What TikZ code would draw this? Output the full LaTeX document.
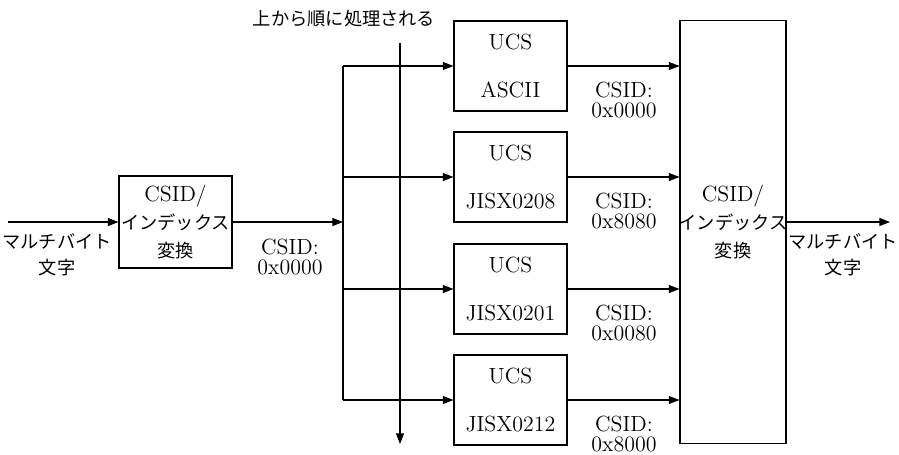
\documentclass[tikz,border=0pt]{standalone}
\usepackage{fontspec}
\newfontfamily\jp{Noto Sans CJK JP}[Scale=0.83]
\usetikzlibrary{positioning,arrows.meta}

\tikzset{
  blk/.style={draw, minimum width=2.26cm, minimum height=1.8cm, inner sep=0pt, align=center},
  lbl/.style={align=center, inner sep=0pt, font=\fontsize{12.5}{11.5}\selectfont},
  jplbl/.style={align=center, inner sep=0pt, font=\fontsize{12.5}{14.8}\selectfont\jp},
  convtxt/.style={align=center, inner sep=0pt, font=\fontsize{12.5}{16}\selectfont},
}

\begin{document}
\begin{tikzpicture}[x=0.02cm, y=-0.02cm, line width=0.6pt,
    font=\fontsize{12.5}{11.5}\selectfont,
    >={Triangle[length=6pt,width=4.5pt]}]
  \useasboundingbox (0,0) rectangle (899,454);

  % input side
  \coordinate (in) at (8,222);
  \node[blk, convtxt, minimum height=1.84cm] (conv) at (175.5,222)
    {CSID/\\{\jp インデックス}\\{\jp 変換}};
  \node[jplbl] (inlbl) at (57,255) {マルチバイト\\文字};
  \node[lbl] (csid) at (290,257) {CSID:\\0x0000};
  \draw[->] (in) -- (conv);

  % distribution bus
  \coordinate (bus) at (343,222);
  \coordinate (bustop) at (343,66);
  \coordinate (busbot) at (343,400);
  \draw[->] (conv) -- (bus);
  \draw (bustop) -- (busbot);

  % processing order
  \node[jplbl] (order) at (344,19) {上から順に処理される};
  \coordinate (flowtop) at (400,43);
  \coordinate (flowbot) at (400,444);
  \draw[->] (flowtop) -- (flowbot);

  % output conversion
  \node[draw, minimum width=2.12cm, minimum height=8.48cm] (big) at (733,232) {};
  \node[convtxt] (bigtxt) at (733,222) {CSID/\\{\jp インデックス}\\{\jp 変換}};
  \node[jplbl] (outlbl) at (843,255) {マルチバイト\\文字};
  \coordinate (out) at (890,222);
  \draw[->] (big.east |- bigtxt) -- (out);

  % UCS tables
  \foreach \name/\y/\id [count=\i] in {ASCII/66/0x0000, JISX0208/177/0x8080,
      JISX0201/289/0x0080, JISX0212/400/0x8000} {
    \node[blk] (ucs\i) at (510.5,\y) {UCS\\[15.5pt]\name};
    \node[lbl] (id\i) at (624,\y+34) {CSID:\\\id};
    \draw[->] (bus |- ucs\i) -- (ucs\i);
    \draw[->] (ucs\i) -- (ucs\i -| big.west);
  }
\end{tikzpicture}
\end{document}
